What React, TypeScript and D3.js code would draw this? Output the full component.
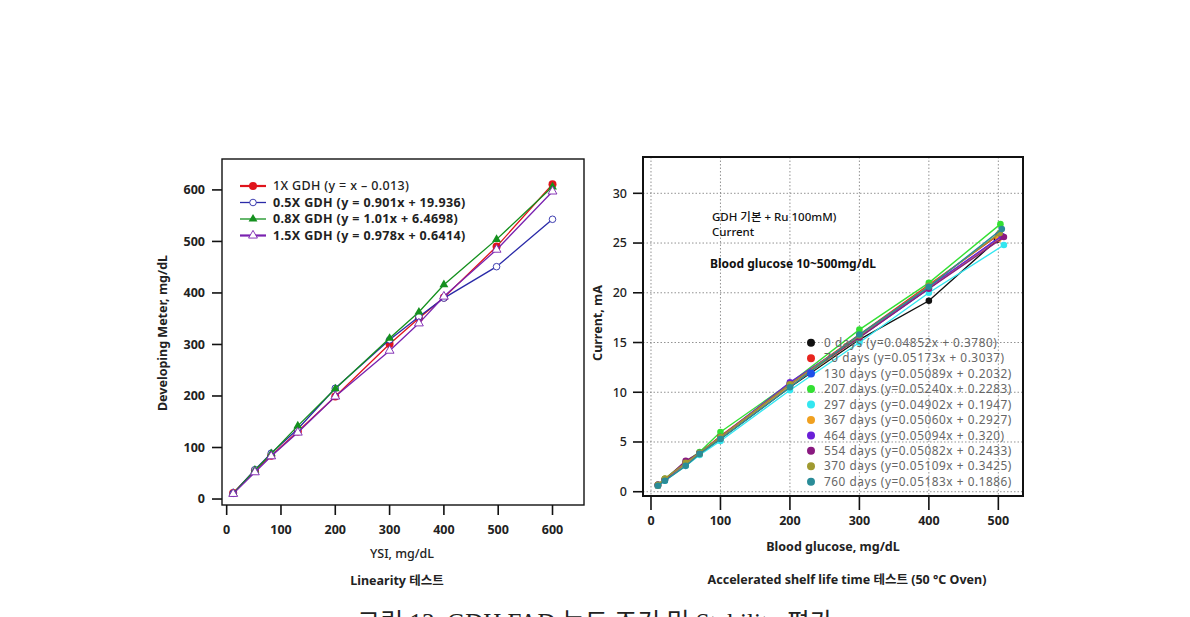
import { useEffect } from 'react';
import * as d3 from 'd3';

// ---- Linearity data (left panel) ----
const ysiX = [12, 52, 82, 131, 200, 300, 354, 400, 497, 600];
const gdh1x = [11.6, 55.6, 84, 131, 199, 301, 351, 391, 490, 611];
const gdh05x = [11, 57, 89, 136, 215, 309, 354, 390, 451, 543];
const gdh08x = [11, 56, 88, 142, 214, 312, 363, 416, 504, 606];
const gdh15x = [10, 52, 83, 129, 199, 288, 341, 393, 484, 597];
const linearityNames = [
  '1X GDH (y = x \u2013 0.013)',
  '0.5X GDH (y = 0.901x + 19.936)',
  '0.8X GDH (y = 1.01x + 6.4698)',
  '1.5X GDH (y = 0.978x + 0.6414)',
];
const leftXTicks = [0, 100, 200, 300, 400, 500, 600];
const leftYTicks = [0, 100, 200, 300, 400, 500, 600];

// ---- Stability data (right panel) ----
const glucoseX = [10, 20, 50, 70, 100, 200, 300, 400];
const lastGlucoseX = [498, 500, 502, 503, 508, 500, 505, 508, 502, 505];
const days0 = [0.6, 1.2, 2.8, 3.8, 5.3, 10.5, 15.3, 19.2, 25.3];
const days70 = [0.7, 1.3, 2.9, 3.9, 5.6, 10.8, 15.8, 20.8, 25.8];
const days130 = [0.6, 1.2, 2.8, 3.8, 5.4, 10.6, 15.5, 20.4, 25.6];
const days207 = [0.7, 1.3, 3.0, 4.0, 6.0, 10.9, 16.3, 21.0, 26.9];
const days297 = [0.6, 1.1, 2.6, 3.7, 5.1, 10.2, 15.0, 20.0, 24.8];
const days367 = [0.6, 1.2, 2.8, 3.8, 5.4, 10.6, 15.5, 20.5, 25.4];
const days464 = [0.7, 1.2, 2.9, 3.9, 5.5, 11.0, 15.6, 20.6, 25.7];
const days554 = [0.7, 1.2, 3.1, 3.9, 5.5, 10.8, 15.5, 20.4, 25.6];
const days370 = [0.7, 1.3, 2.9, 3.9, 5.5, 10.8, 15.7, 20.7, 26.0];
const days760 = [0.6, 1.1, 2.6, 3.8, 5.3, 10.5, 15.8, 20.6, 26.4];
const stabilityNames = [
  '0 days (y=0.04852x + 0.3780)',
  '70 days (y=0.05173x + 0.3037)',
  '130 days (y=0.05089x + 0.2032)',
  '207 days (y=0.05240x + 0.2283)',
  '297 days (y=0.04902x + 0.1947)',
  '367 days (y=0.05060x + 0.2927)',
  '464 days (y=0.05094x + 0.320)',
  '554 days (y=0.05082x + 0.2433)',
  '370 days (y=0.05109x + 0.3425)',
  '760 days (y=0.05183x + 0.1886)',
];
const stabilityColors = ['#111111', '#e8251f', '#1f4fe8', '#33e033', '#33e6f0', '#f0a020', '#6a1fd8', '#8a1a80', '#a09a30', '#2a8c98'];
const rightXTicks = [0, 100, 200, 300, 400, 500];
const rightYTicks = [0, 5, 10, 15, 20, 25, 30];

const FONT = '"Noto Sans", "Noto Sans CJK KR", sans-serif';

function LeftPanel() {
  const x = d3.scaleLinear().domain([-8.6, 658]).range([222, 584]);
  const y = d3.scaleLinear().domain([-11.6, 660]).range([505, 159]);
  const series = [
    { name: linearityNames[0], values: gdh1x, color: '#e0141c', marker: 'dot' },
    { name: linearityNames[1], values: gdh05x, color: '#2a2aa8', marker: 'circle' },
    { name: linearityNames[2], values: gdh08x, color: '#14901e', marker: 'tri' },
    { name: linearityNames[3], values: gdh15x, color: '#7a22b0', marker: 'otri' },
  ];
  const line = d3.line<[number, number]>().x(d => x(d[0])).y(d => y(d[1]));
  const tri = d3.symbol().type(d3.symbolTriangle).size(34)() as string;

  const marker = (kind: string, color: string, cx: number, cy: number, key: string | number) => {
    if (kind === 'dot') return <circle key={key} cx={cx} cy={cy} r={4} fill={color} />;
    if (kind === 'circle') return <circle key={key} cx={cx} cy={cy} r={3.3} fill="#fff" stroke={color} strokeWidth={0.9} />;
    if (kind === 'tri') return <path key={key} d={tri} transform={`translate(${cx},${cy})`} fill={color} />;
    return <path key={key} d={tri} transform={`translate(${cx},${cy})`} fill="#fff" stroke={color} strokeWidth={0.9} />;
  };

  return (
    <g fontFamily={FONT}>
      <rect x={222} y={159} width={362} height={346} fill="none" stroke="#111" strokeWidth={1.4} />
      {leftYTicks.map(t => (
        <g key={'ly' + t}>
          <line x1={212} x2={222} y1={y(t)} y2={y(t)} stroke="#111" strokeWidth={1.6} />
          <text x={205} y={y(t)} dy="0.35em" textAnchor="end" fontSize={12.5} fontWeight={700} fill="#222">{t}</text>
        </g>
      ))}
      {leftXTicks.map(t => (
        <g key={'lx' + t}>
          <line x1={x(t)} x2={x(t)} y1={505} y2={515} stroke="#111" strokeWidth={1.6} />
          <text x={x(t)} y={530} dy="0.35em" textAnchor="middle" fontSize={12.5} fontWeight={700} fill="#222">{t}</text>
        </g>
      ))}
      {series.map((s, i) => (
        <g key={'ls' + i}>
          <path d={line(ysiX.map((v, j) => [v, s.values[j]]) as [number, number][]) || ''} fill="none" stroke={s.color} strokeWidth={1.3} />
          {ysiX.map((v, j) => marker(s.marker, s.color, x(v), y(s.values[j]), j))}
        </g>
      ))}
      {series.map((s, i) => {
        const ly = 186 + i * 16.5;
        return (
          <g key={'lg' + i}>
            <line x1={240} x2={266} y1={ly} y2={ly} stroke={s.color} strokeWidth={i === 0 || i === 3 ? 2.2 : 1.3} />
            {marker(s.marker, s.color, 253, ly, 'm')}
            <text x={273} y={ly} dy="0.35em" fontSize={12.5} letterSpacing={0.35} fontWeight={i === 0 ? 500 : 700} fill="#222">{s.name}</text>
          </g>
        );
      })}
      <text transform="translate(167,333) rotate(-90)" textAnchor="middle" fontSize={12.5} fontWeight={700} fill="#222">Developing Meter, mg/dL</text>
      <text x={402} y={554} dy="0.35em" textAnchor="middle" fontSize={12.5} fontWeight={500} fill="#222">YSI, mg/dL</text>
      <text x={397} y={581} dy="0.35em" textAnchor="middle" fontSize={12.5} fontWeight={700} fill="#222">Linearity 테스트</text>
    </g>
  );
}

function RightPanel() {
  const x = d3.scaleLinear().domain([-11.5, 535.5]).range([643, 1023]);
  const y = d3.scaleLinear().domain([-0.43, 33.65]).range([496, 157]);
  const allSeries = [days0, days70, days130, days207, days297, days367, days464, days554, days370, days760];
  const line = d3.line<[number, number]>().x(d => x(d[0])).y(d => y(d[1]));

  return (
    <g fontFamily={FONT}>
      {rightXTicks.map(t => (
        <line key={'gx' + t} x1={x(t)} x2={x(t)} y1={157} y2={496} stroke="#777" strokeWidth={0.8} strokeDasharray="1.5,2" />
      ))}
      {rightYTicks.map(t => (
        <line key={'gy' + t} x1={643} x2={1023} y1={y(t)} y2={y(t)} stroke="#777" strokeWidth={0.8} strokeDasharray="1.5,2" />
      ))}
      {allSeries.map((vals, i) => {
        const pts = vals.map((v, j) => [j < glucoseX.length ? glucoseX[j] : lastGlucoseX[i], v]) as [number, number][];
        return (
          <g key={'rs' + i}>
            <path d={line(pts) || ''} fill="none" stroke={stabilityColors[i]} strokeWidth={1.4} />
            {pts.map((p, j) => (
              <circle key={j} cx={x(p[0])} cy={y(p[1])} r={3.3} fill={stabilityColors[i]} />
            ))}
          </g>
        );
      })}
      <rect x={643} y={157} width={380} height={339} fill="none" stroke="#111" strokeWidth={2} />
      {rightYTicks.map(t => (
        <g key={'ry' + t}>
          <line x1={633} x2={643} y1={y(t)} y2={y(t)} stroke="#111" strokeWidth={1.6} />
          <text x={627} y={y(t)} dy="0.35em" textAnchor="end" fontSize={12.5} fontWeight={500} fill="#222">{t}</text>
        </g>
      ))}
      {rightXTicks.map(t => (
        <g key={'rx' + t}>
          <line x1={x(t)} x2={x(t)} y1={496} y2={510} stroke="#111" strokeWidth={1.6} />
          <text x={x(t)} y={521} dy="0.35em" textAnchor="middle" fontSize={12.5} fontWeight={700} fill="#222">{t}</text>
        </g>
      ))}
      <text x={712} y={217} dy="0.35em" fontSize={11.5} fontWeight={500} fill="#111">GDH 기본 + Ru 100mM)</text>
      <text x={712} y={231.5} dy="0.35em" fontSize={11.5} fontWeight={500} fill="#111">Current</text>
      <text x={710} y={264} dy="0.35em" fontSize={12} fontWeight={700} fill="#111">Blood glucose 10~500mg/dL</text>
      {stabilityNames.map((n, i) => {
        const ly = 342.7 + i * 15.45;
        return (
          <g key={'rl' + i}>
            <circle cx={811} cy={ly} r={4} fill={stabilityColors[i]} />
            <text x={824} y={ly} dy="0.35em" fontSize={11.8} letterSpacing={0.55} fill="#666">{n}</text>
          </g>
        );
      })}
      <text transform="translate(602,323) rotate(-90)" textAnchor="middle" fontSize={12.5} fontWeight={700} fill="#222">Current, mA</text>
      <text x={833} y={547} dy="0.35em" textAnchor="middle" fontSize={12.5} fontWeight={700} fill="#222">Blood glucose, mg/dL</text>
      <text x={847} y={580} dy="0.35em" textAnchor="middle" fontSize={12.5} fontWeight={700} fill="#222">Accelerated shelf life time 테스트 (50 °C Oven)</text>
    </g>
  );
}

export default function App() {
  useEffect(() => {
    document.body.style.margin = '0';
    document.body.style.overflow = 'hidden';
  }, []);
  return (
    <div style={{ position: 'absolute', left: 0, top: 0, width: 1190, height: 617, background: '#fff' }}>
      <svg width={1190} height={617} style={{ display: 'block' }}>
        <rect width={1190} height={617} fill="#fff" />
        <LeftPanel />
        <RightPanel />
        <text x={595} y={631} textAnchor="middle" fontSize={25} fill="#222" fontFamily='"Liberation Serif", "Noto Sans CJK KR", serif'>그림 13. GDH FAD 농도 조건 및 Stability 평가</text>
      </svg>
    </div>
  );
}
